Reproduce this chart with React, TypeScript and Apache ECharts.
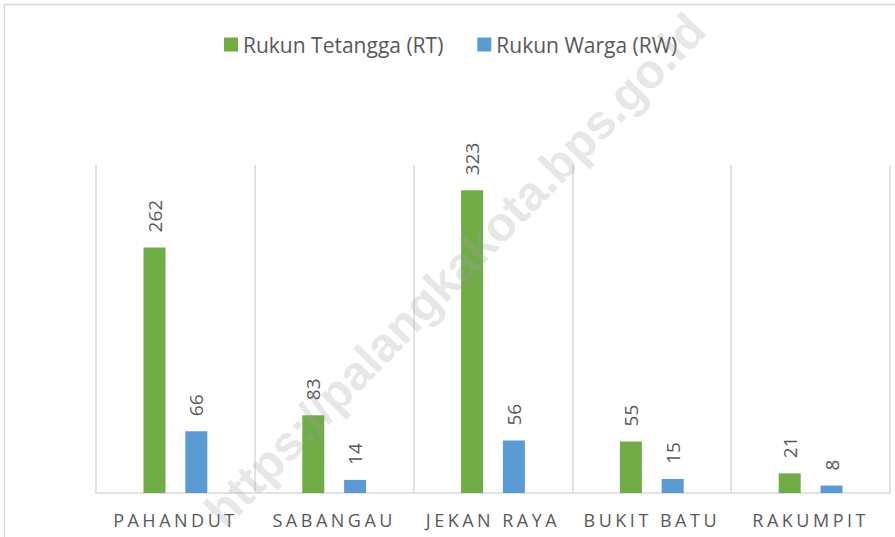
import React, { useEffect, useRef } from "react";
import * as echarts from "echarts";

const categories = ["PAHANDUT", "SABANGAU", "JEKAN RAYA", "BUKIT BATU", "RAKUMPIT"];
const rtValues = [262, 83, 323, 55, 21];
const rwValues = [66, 14, 56, 15, 8];
const seriesNames = ["Rukun Tetangga (RT)", "Rukun Warga (RW)"];
const watermarkText = "https://palangkakota.bps.go.id";

const GREEN = "#70AD47";
const BLUE = "#5B9BD5";
const TEXT = "#595959";
const LINE = "#d9d9d9";

export default function App() {
  const ref = useRef<HTMLDivElement>(null);

  useEffect(() => {
    if (!ref.current) return;
    const chart = echarts.init(ref.current, undefined, { renderer: "svg" });
    const labelCfg = {
      show: true,
      position: "top",
      rotate: 90,
      align: "left",
      verticalAlign: "middle",
      distance: 15,
      color: TEXT,
      fontSize: 19,
      fontFamily: "Open Sans",
    };
    chart.setOption({
      animation: false,
      backgroundColor: "#ffffff",
      legend: {
        top: 29,
        left: 219,
        itemWidth: 14,
        itemHeight: 14,
        itemGap: 34,
        icon: "rect",
        textStyle: { color: TEXT, fontSize: 21, fontFamily: "Open Sans" },
        data: seriesNames,
      },
      grid: { left: 96, right: 5, top: 165, bottom: 44, containLabel: false },
      xAxis: {
        type: "category",
        data: categories,
        axisLine: { show: true, lineStyle: { color: LINE, width: 1.5 } },
        axisTick: { show: false },
        splitLine: { show: true, lineStyle: { color: LINE, width: 1.5 } },
        axisLabel: {
          color: TEXT,
          fontSize: 18,
          fontFamily: "Open Sans, Arial",
          margin: 18,
          interval: 0,
        },
      },
      yAxis: {
        type: "value",
        min: 0,
        max: 350,
        show: false,
        splitLine: { show: false },
      },
      series: [
        {
          name: seriesNames[0],
          type: "bar",
          data: rtValues,
          barWidth: 22,
          barGap: "90%",
          itemStyle: { color: GREEN },
          label: labelCfg,
        },
        {
          name: seriesNames[1],
          type: "bar",
          data: rwValues,
          barWidth: 22,
          barGap: "90%",
          itemStyle: { color: BLUE },
          label: labelCfg,
        },
      ],
      graphic: [
        {
          type: "rect",
          z: 0,
          silent: true,
          shape: { x: 4.5, y: 4.5, width: 1000, height: 1000 },
          style: { fill: "none", stroke: LINE, lineWidth: 1.5 },
        },
        {
          type: "text",
          z: 100,
          silent: true,
          x: 455,
          y: 270,
          rotation: 0.8,
          style: {
            text: watermarkText,
            fill: "rgba(160,160,160,0.27)",
            font: "bold 48px 'Liberation Sans', Arial, sans-serif",
            textAlign: "center",
            textVerticalAlign: "middle",
          },
        },
      ],
    });
    return () => chart.dispose();
  }, []);

  return (
    <>
      <style>{'text[style*="Arial"]:not([style*="bold"]){letter-spacing:3.5px}'}</style>
      <div
        ref={ref}
        style={{ position: "fixed", left: 0, top: 0, width: 895, height: 537 }}
      />
    </>
  );
}
